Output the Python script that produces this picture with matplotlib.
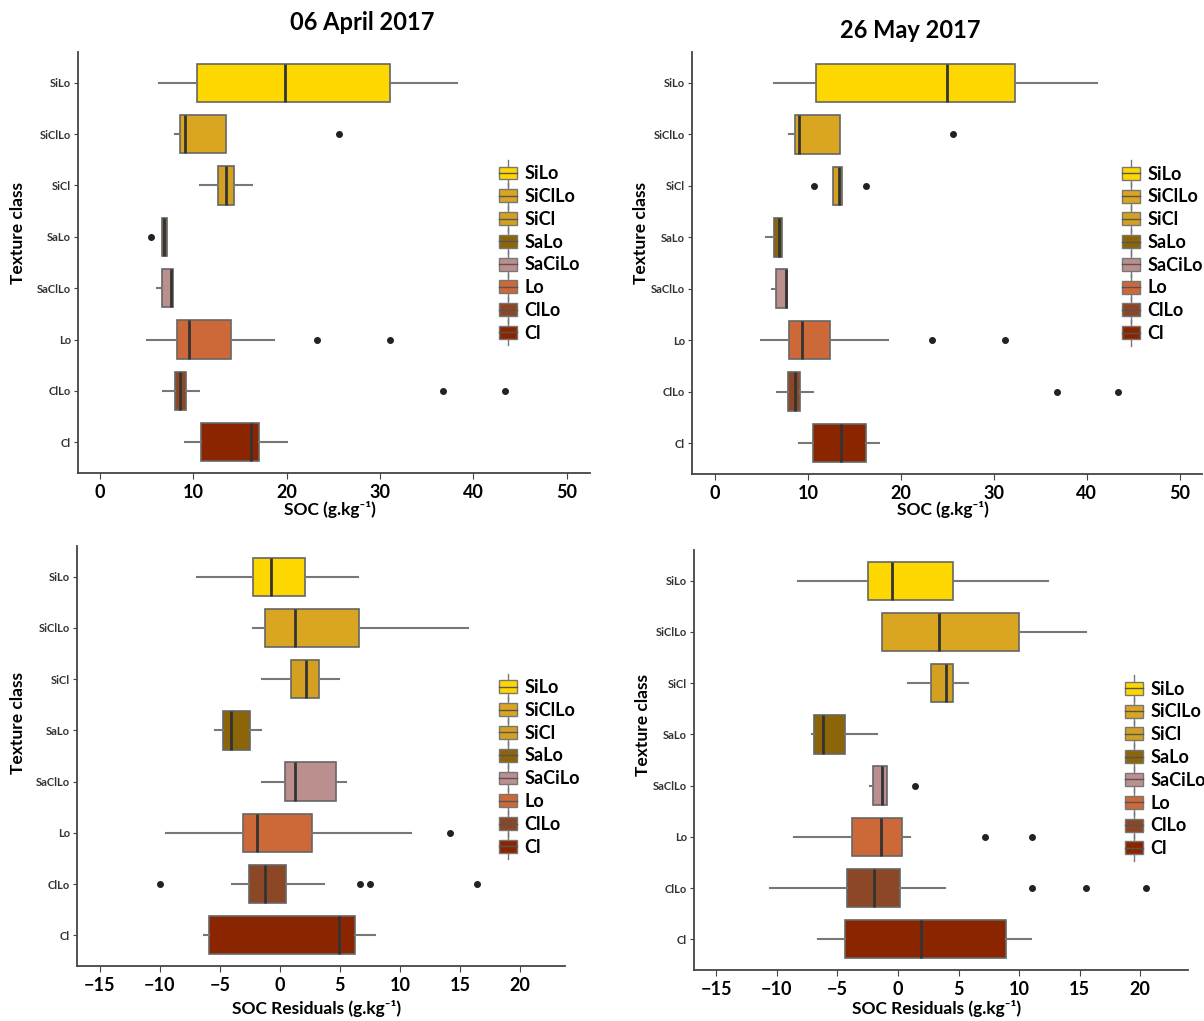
import matplotlib.pyplot as plt
from matplotlib.patches import Patch, Rectangle
from matplotlib.lines import Line2D
from matplotlib.legend_handler import HandlerBase

plt.rcParams['font.family'] = ['Lato', 'DejaVu Sans']

# Texture classes, top to bottom
classes = ["SiLo", "SiClLo", "SiCl", "SaLo", "SaClLo", "Lo", "ClLo", "Cl"]
legend_labels = ["SiLo", "SiClLo", "SiCl", "SaLo", "SaCiLo", "Lo", "ClLo", "Cl"]
colors = ["#FFD700", "#DAA520", "#D4A022", "#8B6508", "#BC8F8F", "#CD6839", "#8B4726", "#8B2500"]

# rows: whisker low, Q1, median, Q3, whisker high
soc_apr = [[6.35, 10.4, 19.8, 31.1, 38.3],
           [8.0, 8.6, 9.1, 13.5, 13.5],
           [10.7, 12.6, 13.5, 14.4, 16.3],
           [6.6, 6.6, 6.9, 7.2, 7.2],
           [6.1, 6.6, 7.6, 7.8, 7.8],
           [5.0, 8.2, 9.5, 14.0, 18.6],
           [6.8, 8.0, 8.6, 9.2, 10.6],
           [9.1, 10.8, 16.2, 17.0, 20.0]]
soc_apr_out = [[], [25.6], [], [5.5], [], [23.2, 31.1], [36.8, 43.4], []]

soc_may = [[6.4, 10.9, 25.0, 32.3, 41.1],
           [8.0, 8.6, 9.05, 13.5, 13.5],
           [12.7, 12.7, 13.3, 13.7, 13.7],
           [5.5, 6.3, 6.9, 7.2, 7.2],
           [6.1, 6.6, 7.6, 7.8, 7.8],
           [5.0, 8.0, 9.4, 12.4, 18.6],
           [6.7, 7.9, 8.6, 9.1, 10.6],
           [9.0, 10.6, 13.6, 16.2, 17.6]]
soc_may_out = [[], [25.6], [10.7, 16.3], [], [], [23.3, 31.2], [36.8, 43.4], []]

res_apr = [[-6.9, -2.2, -0.76, 2.1, 6.5],
           [-2.2, -1.2, 1.27, 6.6, 15.7],
           [-1.5, 0.9, 2.2, 3.3, 4.9],
           [-5.4, -4.7, -4.1, -2.5, -1.6],
           [-1.5, 0.4, 1.3, 4.7, 5.5],
           [-9.45, -3.05, -1.9, 2.65, 10.9],
           [-4.0, -2.55, -1.27, 0.48, 3.7],
           [-6.3, -5.9, 4.9, 6.25, 7.9]]
res_apr_out = [[], [], [], [], [], [14.2], [-9.96, 6.7, 7.5, 16.4], []]

res_may = [[-8.3, -2.5, -0.5, 4.5, 12.4],
           [-1.3, -1.3, 3.4, 10.0, 15.5],
           [0.86, 2.75, 4.0, 4.5, 5.8],
           [-7.1, -6.9, -6.2, -4.4, -1.7],
           [-2.3, -2.1, -1.3, -0.93, -0.93],
           [-8.6, -3.8, -1.4, 0.3, 1.0],
           [-10.6, -4.2, -2.0, 0.2, 3.9],
           [-6.6, -4.4, 1.9, 8.9, 11.0]]
res_may_out = [[], [], [], [], [1.37], [7.2, 11.1], [11.05, 15.5, 20.5], []]

soc_ticks = [0, 10, 20, 30, 40, 50]
res_ticks = [-15, -10, -5, 0, 5, 10, 15, 20]


class BoxKey(HandlerBase):
    # legend key drawn like a small vertical boxplot
    def create_artists(self, legend, orig_handle, xdescent, ydescent,
                       width, height, fontsize, trans):
        x0, y0 = -xdescent, -ydescent
        cx = x0 + width / 2
        whisk = Line2D([cx, cx], [y0 - 0.4 * height, y0 + 1.4 * height],
                       color="#777777", lw=1, transform=trans)
        box = Rectangle((x0, y0 + 0.05 * height), width, 0.9 * height,
                        facecolor=orig_handle.get_facecolor(),
                        edgecolor="#777777", lw=1, transform=trans)
        mid = Line2D([x0, x0 + width], [y0 + height / 2] * 2,
                     color="#555555", lw=1, transform=trans)
        return [whisk, box, mid]


def make_stats(rows, outs):
    stats = []
    for r, o in zip(rows, outs):
        stats.append({"whislo": r[0], "q1": r[1], "med": r[2], "q3": r[3],
                      "whishi": r[4], "fliers": o})
    return stats


fig = plt.figure(figsize=(12.04, 10.21), dpi=100)

# axes box in pixels (left, top, right, bottom), x label offset
panels = [
    ([78, 52, 590, 473], soc_apr, soc_apr_out, (-2.36, 52.5), soc_ticks,
     "SOC (g.kg\u207b\u00b9)", (0.822, 0.731), 36),
    ([692, 52, 1202, 474], soc_may, soc_may_out, (-2.47, 52.4), soc_ticks,
     "SOC (g.kg\u207b\u00b9)", (0.843, 0.731), 35),
    ([77, 546, 565, 966], res_apr, res_apr_out, (-16.9, 23.75), res_ticks,
     "SOC Residuals (g.kg\u207b\u00b9)", (0.865, 0.683), 42),
    ([694, 550, 1188, 970], res_may, res_may_out, (-16.85, 23.95), res_ticks,
     "SOC Residuals (g.kg\u207b\u00b9)", (0.872, 0.689), 38),
]

W, H = 1204, 1021
positions = list(range(len(classes), 0, -1))

for box, rows, outs, xlim, ticks, xlabel, leg_pos, lab_off in panels:
    l, t, r, b = box
    ax = fig.add_axes([l / W, 1 - b / H, (r - l) / W, (b - t) / H])
    bp = ax.bxp(make_stats(rows, outs), positions=positions, widths=0.75,
                orientation="horizontal", patch_artist=True, showcaps=False,
                boxprops=dict(edgecolor="#666666", linewidth=1.2),
                medianprops=dict(color="#333333", linewidth=2),
                whiskerprops=dict(color="#777777", linewidth=1.5),
                flierprops=dict(marker="o", markerfacecolor="#222222",
                                markeredgecolor="#222222", markersize=4))
    for patch, c in zip(bp["boxes"], colors):
        patch.set_facecolor(c)

    ax.set_xlim(*xlim)
    ax.set_ylim(0.4, 8.6)
    ax.set_xticks(ticks)
    ax.set_yticks(positions)
    ax.set_yticklabels(classes)
    for s in ["top", "right"]:
        ax.spines[s].set_visible(False)
    for s in ["left", "bottom"]:
        ax.spines[s].set_color("#444444")
        ax.spines[s].set_linewidth(1.3)
    ax.tick_params(axis="x", length=4, color="#444444", labelsize=13, pad=4)
    ax.tick_params(axis="y", length=3, color="#444444", labelsize=8,
                   labelcolor="#333333", pad=2)
    for lab in ax.get_xticklabels() + ax.get_yticklabels():
        lab.set_fontweight("bold")

    handles = [Patch(facecolor=c) for c in colors]
    ax.legend(handles, legend_labels, handler_map={Patch: BoxKey()},
              loc="upper left", bbox_to_anchor=leg_pos, frameon=False,
              borderpad=0, borderaxespad=0, handlelength=1.0, handleheight=0.85,
              handletextpad=0.4, labelspacing=0.32,
              prop=dict(weight="bold", size=13))

    fig.text(((l + r) / 2 - 4) / W, 1 - (b + lab_off) / H, xlabel, ha="center",
             va="center", fontsize=12.5, fontweight="bold")

# titles and y labels
fig.text(362 / W, 1 - 22 / H, "06 April 2017", ha="center", va="center",
         fontsize=17, fontweight="bold")
fig.text(910 / W, 1 - 30 / H, "26 May 2017", ha="center", va="center",
         fontsize=17, fontweight="bold")
for x, y in [(18, 233), (641, 233), (18, 723), (643, 725)]:
    fig.text(x / W, 1 - y / H, "Texture class", ha="center", va="center",
             rotation=90, fontsize=12.5, fontweight="bold")

fig.savefig("out.png", dpi=100)
